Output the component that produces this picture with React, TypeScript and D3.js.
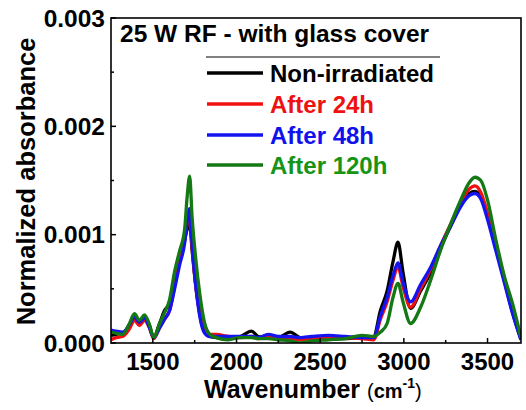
import React from 'react';
import * as d3 from 'd3';

// Wavenumbers (cm-1) sampled along the spectra
const wavenumbers = [
  1250, 1280, 1320, 1360, 1390, 1420, 1450, 1480, 1505, 1540, 1570, 1600, 1630, 1660, 1690, 1705,
  1720, 1735, 1755, 1780, 1810, 1840, 1880, 1950, 2020, 2090, 2130, 2190, 2250, 2320, 2380, 2450,
  2550, 2650, 2750, 2820, 2860, 2900, 2935, 2965, 2995, 3040, 3100, 3160, 3220, 3280, 3340, 3390,
  3425, 3460, 3500, 3550, 3600, 3650, 3700,
];

// Normalized absorbance, in units of 0.001
const nonIrradiated = [
  0.07, 0.08, 0.09, 0.16, 0.24, 0.19, 0.24, 0.16, 0.05, 0.18, 0.3, 0.36, 0.55, 0.78, 0.95, 1.05,
  1.09, 0.85, 0.55, 0.28, 0.1, 0.06, 0.05, 0.05, 0.06, 0.11, 0.06, 0.05, 0.05, 0.1, 0.05, 0.04,
  0.05, 0.04, 0.05, 0.06, 0.3, 0.48, 0.75, 0.93, 0.65, 0.32, 0.48, 0.65, 0.88, 1.08, 1.27, 1.38,
  1.4, 1.35, 1.17, 0.88, 0.58, 0.28, 0.03,
];
const after24h = [
  0.03, 0.05, 0.06, 0.13, 0.21, 0.16, 0.21, 0.14, 0.04, 0.14, 0.22, 0.3, 0.52, 0.76, 0.95, 1.1,
  1.16, 0.88, 0.55, 0.27, 0.1, 0.08, 0.08, 0.06, 0.05, 0.06, 0.04, 0.06, 0.05, 0.04, 0.03, 0.04,
  0.04, 0.05, 0.04, 0.03, 0.22, 0.38, 0.58, 0.7, 0.52, 0.33, 0.5, 0.68, 0.9, 1.1, 1.3, 1.42,
  1.45, 1.39, 1.2, 0.9, 0.6, 0.3, 0.04,
];
const after48h = [
  0.12, 0.11, 0.1, 0.17, 0.24, 0.19, 0.23, 0.14, 0.05, 0.14, 0.22, 0.3, 0.5, 0.72, 0.92, 1.12,
  1.24, 0.9, 0.55, 0.25, 0.09, 0.06, 0.06, 0.06, 0.06, 0.06, 0.05, 0.08, 0.06, 0.06, 0.05, 0.06,
  0.07, 0.06, 0.05, 0.05, 0.25, 0.42, 0.62, 0.74, 0.56, 0.38, 0.54, 0.7, 0.9, 1.08, 1.26, 1.36,
  1.38, 1.33, 1.14, 0.85, 0.56, 0.27, 0.03,
];
const after120h = [
  0.1, 0.09, 0.08, 0.18, 0.27, 0.21, 0.26, 0.17, 0.05, 0.18, 0.28, 0.4, 0.66, 0.85, 1.05, 1.35,
  1.54, 1.15, 0.8, 0.46, 0.18, 0.08, 0.05, 0.03, 0.05, 0.05, 0.04, 0.04, 0.03, 0.02, 0.0, 0.02,
  0.03, 0.04, 0.07, 0.06, 0.1, 0.18, 0.42, 0.55, 0.38, 0.18, 0.33, 0.58, 0.86, 1.1, 1.32, 1.48,
  1.53, 1.5, 1.32, 0.95, 0.62, 0.36, 0.05,
];

const seriesNames = ['Non-irradiated', 'After 24h', 'After 48h', 'After 120h'];
const seriesValues = [nonIrradiated, after24h, after48h, after120h];
const lineColors = ['#000000', '#f01010', '#1414f0', '#147814'];
const textColors = ['#000000', '#ee1111', '#1111ee', '#169416'];

const xTicks = [1500, 2000, 2500, 3000, 3500];
const xMinorTicks = [1750, 2250, 2750, 3250];
const yTicks = [0, 0.001, 0.002, 0.003];
const yMinorTicks = [0.0005, 0.0015, 0.0025];

const W = 526;
const H = 410;
const margin = { top: 18, right: 5, bottom: 67, left: 111 };
const FONT = 'Arial, "Liberation Sans", sans-serif';

export default function App() {
  const x = d3.scaleLinear().domain([1250, 3700]).range([margin.left, W - margin.right]);
  const y = d3.scaleLinear().domain([0, 0.003]).range([H - margin.bottom, margin.top]);
  const [x0, x1] = x.range();
  const [y0, y1] = y.range();

  const line = d3
    .line<number>()
    .x((_, i) => x(wavenumbers[i]))
    .y((d) => y(d / 1000))
    .curve(d3.curveMonotoneX);

  const legendY = [73, 104, 135, 165];

  return (
    <svg
      width={W}
      height={H}
      style={{ position: 'absolute', left: 0, top: 0, background: '#fff' }}
      fontFamily={FONT}
    >
      <defs>
        <clipPath id="plot">
          <rect x={x0} y={y1} width={x1 - x0} height={y0 - y1} />
        </clipPath>
      </defs>

      {/* spectra */}
      <g clipPath="url(#plot)" fill="none" strokeWidth={3.3} strokeLinejoin="round">
        {seriesValues.map((vals, i) => (
          <path key={i} d={line(vals) || ''} stroke={lineColors[i]} />
        ))}
      </g>

      {/* frame */}
      <rect x={x0} y={y1} width={x1 - x0} height={y0 - y1} fill="none" stroke="#000" strokeWidth={1.6} />

      {/* x ticks */}
      {xTicks.map((t) => (
        <g key={t}>
          <line x1={x(t)} x2={x(t)} y1={y0} y2={y0 - 5} stroke="#000" strokeWidth={1.5} />
          <text x={x(t)} y={370} textAnchor="middle" fontSize={24} fontWeight="bold">
            {t}
          </text>
        </g>
      ))}
      {xMinorTicks.map((t) => (
        <line key={t} x1={x(t)} x2={x(t)} y1={y0} y2={y0 - 3} stroke="#000" strokeWidth={1.5} />
      ))}

      {/* y ticks */}
      {yTicks.map((t) => (
        <g key={t}>
          <line x1={x0} x2={x0 + 5} y1={y(t)} y2={y(t)} stroke="#000" strokeWidth={1.5} />
          <text x={105} y={y(t)} dy="0.36em" textAnchor="end" fontSize={24.5} fontWeight="bold">
            {d3.format('.3f')(t)}
          </text>
        </g>
      ))}
      {yMinorTicks.map((t) => (
        <line key={t} x1={x0} x2={x0 + 3} y1={y(t)} y2={y(t)} stroke="#000" strokeWidth={1.5} />
      ))}

      {/* axis titles */}
      <text
        transform={`translate(35,${(y0 + y1) / 2 + 1}) rotate(-90)`}
        textAnchor="middle"
        fontSize={25.5}
        fontWeight="bold"
      >
        Normalized absorbance
      </text>
      <text x={204} y={398} fontSize={25} fontWeight="bold">
        Wavenumber <tspan fontSize={20} fontWeight="normal">(</tspan>
        <tspan fontSize={20}>cm</tspan>
        <tspan fontSize={14} dy={-10}>-1</tspan>
        <tspan fontSize={20} fontWeight="normal" dy={10}>)</tspan>
      </text>

      {/* title + legend */}
      <text x={120} y={42} fontSize={24.5} fontWeight="bold">
        25 W RF - with glass cover
      </text>
      <line x1={206} x2={440} y1={57} y2={57} stroke="#000" strokeWidth={1} />
      {seriesNames.map((name, i) => (
        <g key={name}>
          <line x1={207} x2={263} y1={legendY[i]} y2={legendY[i]} stroke={lineColors[i]} strokeWidth={3.3} />
          <text x={270} y={legendY[i] + 9} fontSize={24} fontWeight="bold" fill={textColors[i]}>
            {name}
          </text>
        </g>
      ))}
    </svg>
  );
}
